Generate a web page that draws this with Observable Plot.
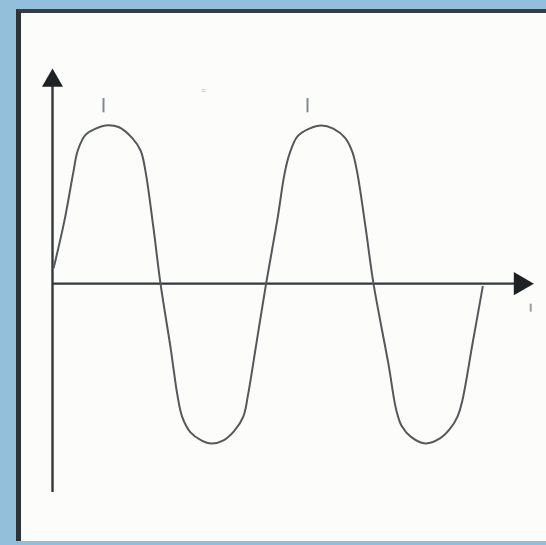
<!DOCTYPE html>
<html>
<head>
<meta charset="utf-8">
<script src="https://cdn.jsdelivr.net/npm/d3@7"></script>
<script src="https://cdn.jsdelivr.net/npm/@observablehq/plot@0.6"></script>
<style>
  html, body { margin: 0; padding: 0; }
  body { width: 546px; height: 545px; background: #93bfdc; position: relative; overflow: hidden; }
  #panel { position: absolute; left: 16px; top: 9px; width: 540px; height: 532px;
           background: #fcfdfb; border-top: 4px solid #3a3d40; border-left: 5px solid #2f3235; box-sizing: border-box; }
  #chart { position: absolute; left: 0; top: 0; }
</style>
</head>
<body>
<div id="panel"></div>
<div id="chart"></div>
<script>
// Wave: phase in degrees, amplitude (peak = 1)
const phase = [2, 20, 35, 42, 55, 72, 88, 110, 133, 147, 155, 168, 180,
               197, 208, 216, 230, 248, 265, 285, 303, 318, 326, 341, 356,
               375, 387, 395, 408, 428, 448, 468, 488, 500, 508, 522, 535,
               560, 573, 582, 598, 622, 645, 662, 675, 683, 700, 717];
const amplitude = [0.10, 0.40, 0.71, 0.84, 0.94, 0.98, 1.0, 0.99, 0.92, 0.84, 0.71, 0.36, 0,
                   -0.41, -0.70, -0.84, -0.94, -0.99, -1.01, -0.99, -0.93, -0.84, -0.70, -0.35, 0,
                   0.41, 0.70, 0.82, 0.93, 0.98, 1.0, 0.98, 0.92, 0.83, 0.70, 0.35, 0,
                   -0.51, -0.80, -0.90, -0.97, -1.01, -0.98, -0.92, -0.84, -0.74, -0.38, -0.02];

// Axis extents
const xAxisEnd = 805;
const yAxisTop = 1.36;
const yAxisBottom = -1.32;

// Faint marks above the peaks and under the arrow
const peakMarkX = [85, 425];
const arrowMarkX = [797];

const wave = phase.map((p, i) => ({p, a: amplitude[i]}));

const chart = Plot.plot({
  width: 546,
  height: 545,
  marginLeft: 52,
  marginRight: 11,
  marginTop: 68,
  marginBottom: 53,
  x: {domain: [0, xAxisEnd], axis: null},
  y: {domain: [yAxisBottom, yAxisTop], axis: null},
  style: {background: "transparent"},
  marks: [
    // axes
    Plot.ruleY([0], {x1: 0, x2: xAxisEnd - 20, stroke: "#34373a", strokeWidth: 2.2}),
    Plot.ruleX([0], {y1: yAxisBottom, y2: yAxisTop - 0.1, stroke: "#34373a", strokeWidth: 2.4}),
    Plot.dot([{x: 0, y: yAxisTop - 0.077}], {x: "x", y: "y", symbol: "triangle", r: 7.8, fill: "#1f2224", stroke: "none"}),
    Plot.dot([{x: xAxisEnd - 25, y: 0}], {x: "x", y: "y", symbol: "triangle", r: 8.6, rotate: 90, fill: "#1f2224", stroke: "none"}),
    // faint marks
    Plot.ruleX(peakMarkX, {y1: 1.08, y2: 1.17, stroke: "#85888b", strokeWidth: 2}),
    Plot.ruleX(arrowMarkX, {y1: -0.13, y2: -0.18, stroke: "#9a9da0", strokeWidth: 2}),
    Plot.text(["="], {x: 252, y: 1.22, fontSize: 9, fill: "#aaaaaa"}),
    // wave
    Plot.line(wave, {x: "p", y: "a", curve: "catmull-rom", stroke: "#55585b", strokeWidth: 2})
  ]
});
document.getElementById("chart").appendChild(chart);
</script>
</body>
</html>
